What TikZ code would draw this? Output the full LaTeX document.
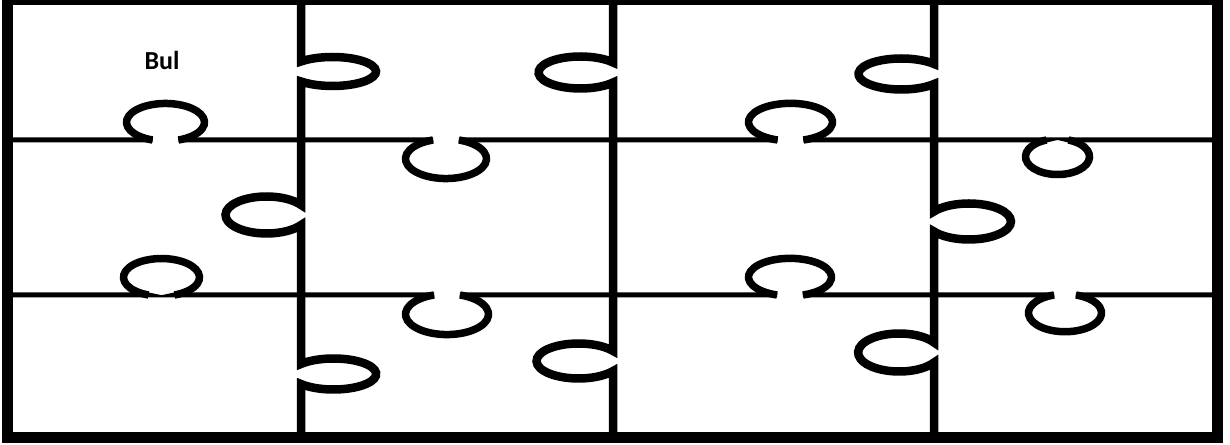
\documentclass[tikz,border=0pt]{standalone}
\usepackage{fontspec}
\newfontfamily\calib{Carlito}
% knob macros: #1 centre along the line, #2 line position, #3 neck half-width, #4 x radius, #5 y radius
\newcommand\kU[5]{-- ({#1-#3},#2) arc[start angle={270-asin(#3/#4)}, end angle={-90+asin(#3/#4)}, x radius=#4, y radius=#5]}
\newcommand\kD[5]{-- ({#1-#3},#2) arc[start angle={90+asin(#3/#4)}, end angle={450-asin(#3/#4)}, x radius=#4, y radius=#5]}
\newcommand\kR[5]{-- (#2,{#1+#3}) arc[start angle={180-asin(#3/#5)}, end angle={-180+asin(#3/#5)}, x radius=#4, y radius=#5]}
\newcommand\kL[5]{-- (#2,{#1+#3}) arc[start angle={asin(#3/#5)}, end angle={360-asin(#3/#5)}, x radius=#4, y radius=#5]}
\begin{document}
\begin{tikzpicture}[x=1pt,y=1pt,
  hline/.style={line width=5pt},
  vline/.style={line width=8.5pt},
  knob/.style={line width=7.5pt},
  frame/.style={line width=11pt}]
\useasboundingbox (0,0) rectangle (1230,444);
\fill[white] (0,0) rectangle (1230,444);
% horizontal seams
\draw[hline] (7,304) \kU{165.5}{304}{13}{39}{18.8} \kD{446}{304}{13}{40.5}{19.8} \kU{790.5}{304}{13}{42}{18.8} \kD{1057.5}{304}{11}{32}{17.8} -- (1218,304);
\draw[hline] (7,149) \kU{161.5}{149}{13}{38}{18.8} \kD{447}{149}{13}{41.5}{20.3} \kU{790}{149}{13}{41.5}{18.8} \kD{1065}{149}{11}{36.5}{18.8} -- (1218,149);
% thicker knob outlines on the horizontal seams
\draw[knob] ({165.5-13},304) \kU{165.5}{304}{13}{39}{18.8};
\draw[knob] ({446-13},304) \kD{446}{304}{13}{40.5}{19.8};
\draw[knob] ({790.5-13},304) \kU{790.5}{304}{13}{42}{18.8};
\draw[knob] ({1057.5-11},304) \kD{1057.5}{304}{11}{32}{17.8};
\draw[knob] ({161.5-13},149) \kU{161.5}{149}{13}{38}{18.8};
\draw[knob] ({447-13},149) \kD{447}{149}{13}{41.5}{20.3};
\draw[knob] ({790-13},149) \kU{790}{149}{13}{41.5}{18.8};
\draw[knob] ({1065-11},149) \kD{1065}{149}{11}{36.5}{18.8};
% vertical seams
\draw[vline] (301,446) \kR{372.5}{301}{10}{43.5}{14.5} \kL{229}{301}{10}{41}{18.5} \kR{70}{301}{10}{42.6}{15.5} -- (301,2);
\draw[vline] (613,446) \kL{371.5}{613}{10}{41.8}{16} \kL{83}{613}{10}{42}{17.5} -- (613,2);
\draw[vline] (934,446) \kL{370}{934}{10}{42.8}{15.5} \kR{222.5}{934}{10}{42}{18} \kL{91.5}{934}{10}{41}{19} -- (934,2);
% outer frame
\draw[frame] (7.5,444.5) rectangle (1217.5,7);
\node[font=\calib\bfseries\fontsize{26}{30}\selectfont] (bul) at (162,384) {Bul};
\end{tikzpicture}
\end{document}
